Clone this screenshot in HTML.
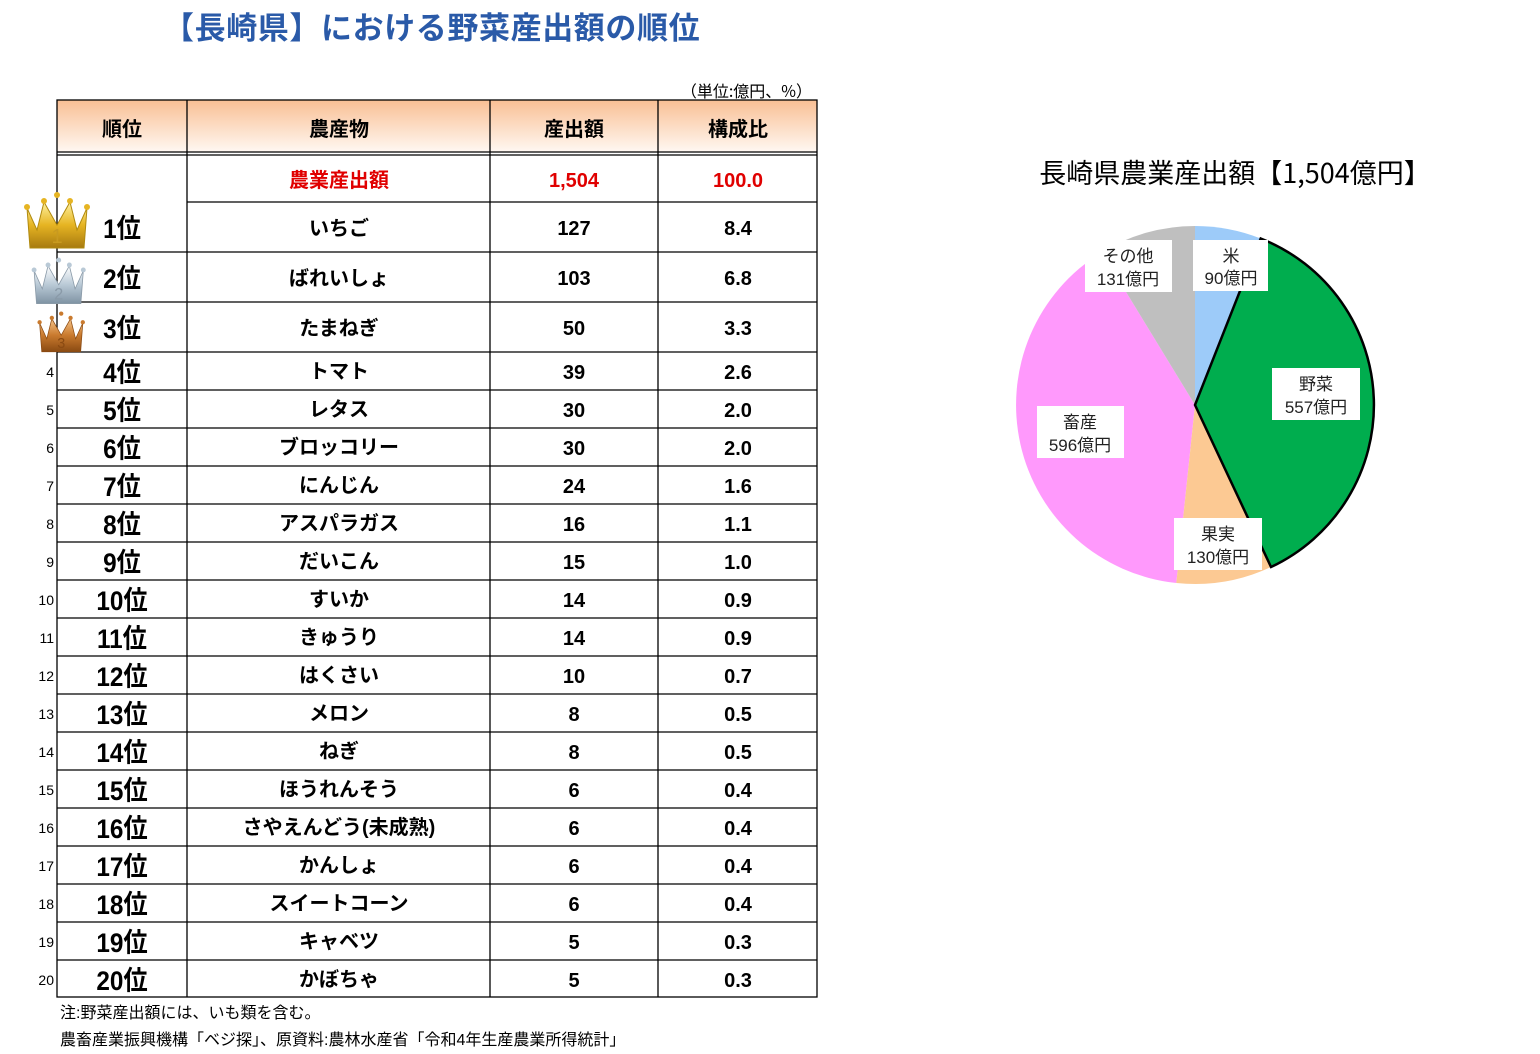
<!DOCTYPE html>
<html><head><meta charset="utf-8"><style>
html,body{margin:0;padding:0;background:#fff;}
svg{display:block;}
text{font-family:"Liberation Sans","Noto Sans CJK JP",sans-serif;}
.j{font-family:"Noto Sans CJK JP",sans-serif;}
</style></head><body>
<svg width="1540" height="1054" viewBox="0 0 1540 1054" xmlns="http://www.w3.org/2000/svg">
<defs>
<linearGradient id="hd" x1="0" y1="0" x2="0" y2="1">
<stop offset="0" stop-color="#f9bf94"/><stop offset="1" stop-color="#fff8f2"/></linearGradient>
<linearGradient id="gold" x1="0" y1="0" x2="0" y2="1"><stop offset="0" stop-color="#fff2a0"/><stop offset="0.5" stop-color="#e6b422"/><stop offset="1" stop-color="#a77a10"/></linearGradient>
<linearGradient id="silv" x1="0" y1="0" x2="0" y2="1"><stop offset="0" stop-color="#ffffff"/><stop offset="0.5" stop-color="#b9c9d6"/><stop offset="1" stop-color="#7f93a3"/></linearGradient>
<linearGradient id="brz" x1="0" y1="0" x2="0" y2="1"><stop offset="0" stop-color="#f6c58a"/><stop offset="0.5" stop-color="#c97a2e"/><stop offset="1" stop-color="#8a4a12"/></linearGradient>
</defs>
<text x="163" y="39" font-size="31" font-weight="bold" fill="#2a5aa8" class="j" letter-spacing="0.6">【長崎県】における野菜産出額の順位</text>
<text x="812" y="97" font-size="16" text-anchor="end" class="j" fill="#000">（単位:億円、%）</text>

<rect x="57" y="100" width="760" height="52" fill="url(#hd)"/>
<g stroke="#000" stroke-width="1.3" fill="none">
<rect x="57" y="100" width="760" height="897"/>
<line x1="57" y1="152" x2="817" y2="152"/>
<line x1="57" y1="155" x2="817" y2="155"/>
<line x1="187" y1="100" x2="187" y2="997"/>
<line x1="490" y1="100" x2="490" y2="997"/>
<line x1="658" y1="100" x2="658" y2="997"/>
<line x1="187" y1="202" x2="817" y2="202"/>
<line x1="57" y1="252" x2="817" y2="252"/>
<line x1="57" y1="302" x2="817" y2="302"/>
<line x1="57" y1="352" x2="817" y2="352"/>
<line x1="57" y1="390" x2="817" y2="390"/><line x1="57" y1="428" x2="817" y2="428"/>
<line x1="57" y1="466" x2="817" y2="466"/><line x1="57" y1="504" x2="817" y2="504"/>
<line x1="57" y1="542" x2="817" y2="542"/><line x1="57" y1="580" x2="817" y2="580"/>
<line x1="57" y1="618" x2="817" y2="618"/><line x1="57" y1="656" x2="817" y2="656"/>
<line x1="57" y1="694" x2="817" y2="694"/><line x1="57" y1="732" x2="817" y2="732"/>
<line x1="57" y1="770" x2="817" y2="770"/><line x1="57" y1="808" x2="817" y2="808"/>
<line x1="57" y1="846" x2="817" y2="846"/><line x1="57" y1="884" x2="817" y2="884"/>
<line x1="57" y1="922" x2="817" y2="922"/><line x1="57" y1="960" x2="817" y2="960"/>
</g>
<g font-weight="bold" font-size="20" text-anchor="middle" class="j" fill="#000">
<text x="122" y="136">順位</text><text x="339" y="136">農産物</text><text x="574" y="136">産出額</text><text x="738" y="136">構成比</text>
</g>
<g font-weight="bold" font-size="20" text-anchor="middle" fill="#e00000">
<text x="339" y="187" class="j">農業産出額</text><text x="574" y="187">1,504</text><text x="738" y="187">100.0</text>
</g>

<g transform="translate(22,190)"><path d="M5 18 L15 40 L22 12 L35 35 L48 12 L55 40 L65 18 L62 58 L8 58 Z" fill="url(#gold)" stroke="#b08a10"/><circle cx="5" cy="17" r="3" fill="#e6b422"/><circle cx="22" cy="11" r="3" fill="#e6b422"/><circle cx="35" cy="5" r="3" fill="#e6b422"/><circle cx="48" cy="11" r="3" fill="#e6b422"/><circle cx="65" cy="17" r="3" fill="#e6b422"/><text x="35" y="53" font-size="20" text-anchor="middle" fill="#c89a20" font-family="Liberation Serif">1</text></g>
<g transform="translate(30,256) scale(0.82)"><path d="M5 18 L15 40 L22 12 L35 35 L48 12 L55 40 L65 18 L62 58 L8 58 Z" fill="url(#silv)" stroke="#8a9aa8"/><circle cx="5" cy="17" r="3" fill="#b9c9d6"/><circle cx="22" cy="11" r="3" fill="#b9c9d6"/><circle cx="35" cy="5" r="3" fill="#b9c9d6"/><circle cx="48" cy="11" r="3" fill="#b9c9d6"/><circle cx="65" cy="17" r="3" fill="#b9c9d6"/><text x="35" y="53" font-size="20" text-anchor="middle" fill="#8a9aa8" font-family="Liberation Serif">2</text></g>
<g transform="translate(36,310) scale(0.72)"><path d="M5 18 L15 40 L22 12 L35 35 L48 12 L55 40 L65 18 L62 58 L8 58 Z" fill="url(#brz)" stroke="#8a4a12"/><circle cx="5" cy="17" r="3" fill="#c97a2e"/><circle cx="22" cy="11" r="3" fill="#c97a2e"/><circle cx="35" cy="5" r="3" fill="#c97a2e"/><circle cx="48" cy="11" r="3" fill="#c97a2e"/><circle cx="65" cy="17" r="3" fill="#c97a2e"/><text x="35" y="53" font-size="20" text-anchor="middle" fill="#8a4a12" font-family="Liberation Serif">3</text></g>

<g font-size="14" text-anchor="end" fill="#000">
<text x="54" y="377">4</text><text x="54" y="415">5</text><text x="54" y="453">6</text><text x="54" y="491">7</text><text x="54" y="529">8</text><text x="54" y="567">9</text><text x="54" y="605">10</text><text x="54" y="643">11</text><text x="54" y="681">12</text><text x="54" y="719">13</text><text x="54" y="757">14</text><text x="54" y="795">15</text><text x="54" y="833">16</text><text x="54" y="871">17</text><text x="54" y="909">18</text><text x="54" y="947">19</text><text x="54" y="985">20</text>
</g>

<g font-size="27" font-weight="bold" text-anchor="middle" class="j" fill="#000" transform="translate(122,0) scale(0.9,1) translate(-122,0)">
<text x="122" y="238">1位</text><text x="122" y="288">2位</text><text x="122" y="338">3位</text>
<text x="122" y="382">4位</text><text x="122" y="420">5位</text><text x="122" y="458">6位</text><text x="122" y="496">7位</text><text x="122" y="534">8位</text><text x="122" y="572">9位</text><text x="122" y="610">10位</text><text x="122" y="648">11位</text><text x="122" y="686">12位</text><text x="122" y="724">13位</text><text x="122" y="762">14位</text><text x="122" y="800">15位</text><text x="122" y="838">16位</text><text x="122" y="876">17位</text><text x="122" y="914">18位</text><text x="122" y="952">19位</text><text x="122" y="990">20位</text>
</g>

<g font-size="20" font-weight="bold" text-anchor="middle" class="j" fill="#000">
<text x="339" y="235">いちご</text><text x="339" y="285">ばれいしょ</text><text x="339" y="335">たまねぎ</text>
<text x="339" y="378">トマト</text><text x="339" y="416">レタス</text><text x="339" y="454">ブロッコリー</text><text x="339" y="492">にんじん</text><text x="339" y="530">アスパラガス</text><text x="339" y="568">だいこん</text><text x="339" y="606">すいか</text><text x="339" y="644">きゅうり</text><text x="339" y="682">はくさい</text><text x="339" y="720">メロン</text><text x="339" y="758">ねぎ</text><text x="339" y="796">ほうれんそう</text><text x="339" y="834">さやえんどう(未成熟)</text><text x="339" y="872">かんしょ</text><text x="339" y="910">スイートコーン</text><text x="339" y="948">キャベツ</text><text x="339" y="986">かぼちゃ</text>
</g>

<g font-size="20" font-weight="bold" text-anchor="middle" fill="#000">
<text x="574" y="235">127</text><text x="574" y="285">103</text><text x="574" y="335">50</text>
<text x="574" y="379">39</text><text x="574" y="417">30</text><text x="574" y="455">30</text><text x="574" y="493">24</text><text x="574" y="531">16</text><text x="574" y="569">15</text><text x="574" y="607">14</text><text x="574" y="645">14</text><text x="574" y="683">10</text><text x="574" y="721">8</text><text x="574" y="759">8</text><text x="574" y="797">6</text><text x="574" y="835">6</text><text x="574" y="873">6</text><text x="574" y="911">6</text><text x="574" y="949">5</text><text x="574" y="987">5</text>
<text x="738" y="235">8.4</text><text x="738" y="285">6.8</text><text x="738" y="335">3.3</text>
<text x="738" y="379">2.6</text><text x="738" y="417">2.0</text><text x="738" y="455">2.0</text><text x="738" y="493">1.6</text><text x="738" y="531">1.1</text><text x="738" y="569">1.0</text><text x="738" y="607">0.9</text><text x="738" y="645">0.9</text><text x="738" y="683">0.7</text><text x="738" y="721">0.5</text><text x="738" y="759">0.5</text><text x="738" y="797">0.4</text><text x="738" y="835">0.4</text><text x="738" y="873">0.4</text><text x="738" y="911">0.4</text><text x="738" y="949">0.3</text><text x="738" y="987">0.3</text>
</g>

<g font-size="16" class="j" fill="#000">
<text x="60" y="1018">注:野菜産出額には、いも類を含む。</text>
<text x="60" y="1045">農畜産業振興機構「ベジ探」、原資料:農林水産省「令和4年生産農業所得統計」</text>
</g>

<text x="1235" y="183" font-size="27" text-anchor="middle" class="j" fill="#000">長崎県農業産出額【1,504億円】</text>
<g>
<path d="M1195 405 L1195 226 A179 179 0 0 1 1260.7 238.5 Z" fill="#9dcbf9"/>
<path d="M1195 405 L1176.3 583 A179 179 0 0 1 1101.8 252.2 Z" fill="#ff99fc"/>
<path d="M1195 405 L1271 567 A179 179 0 0 1 1176.3 583 Z" fill="#fcc993"/>
<path d="M1195 405 L1101.8 252.2 A179 179 0 0 1 1195 226 Z" fill="#bfbfbf"/>
<path d="M1195 405 L1260.7 238.5 A179 179 0 0 1 1271 567 Z" fill="#00ad4e" stroke="#000" stroke-width="2.5"/>
</g>
<g fill="#fff">
<rect x="1085" y="240" width="87" height="52"/><rect x="1193" y="240" width="75" height="51"/>
<rect x="1272" y="368" width="88" height="52"/><rect x="1037" y="406" width="87" height="52"/>
<rect x="1174" y="518" width="88" height="52"/>
</g>
<g font-size="17" text-anchor="middle" class="j" fill="#222">
<text x="1128" y="262">その他</text><text x="1128" y="285">131億円</text>
<text x="1231" y="262">米</text><text x="1231" y="284">90億円</text>
<text x="1316" y="390">野菜</text><text x="1316" y="413">557億円</text>
<text x="1080" y="428">畜産</text><text x="1080" y="451">596億円</text>
<text x="1218" y="540">果実</text><text x="1218" y="563">130億円</text>
</g>
</svg>
</body></html>
